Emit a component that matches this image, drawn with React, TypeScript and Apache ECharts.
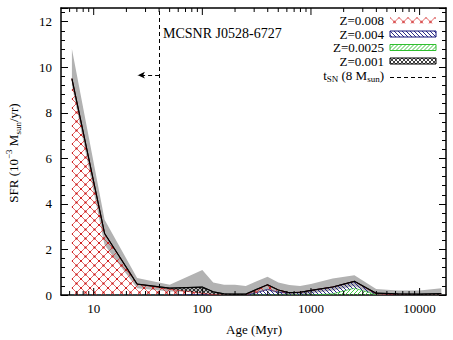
import React, { useEffect, useRef } from 'react';
import * as echarts from 'echarts';

// Age bins (Myr)
const ages = [6.3, 12.6, 25.1, 50.1, 100, 125.9, 158.5, 199.5, 251.2, 316.2, 398.1, 501.2, 631.0, 794.3, 1000, 1584.9, 2511.9, 3981.1, 6309.6, 10000, 15848.9];
// SFR per metallicity (10^-3 Msun/yr)
const sfrZ0025 = [0, 0, 0, 0, 0, 0, 0, 0, 0, 0, 0, 0, 0, 0, 0, 0.05, 0.3, 0.02, 0, 0, 0];
const sfrZ004 = [0, 0, 0, 0, 0.03, 0, 0, 0, 0, 0.1, 0.25, 0.12, 0.1, 0.12, 0.2, 0.3, 0.3, 0.03, 0.01, 0, 0];
const sfrZ008 = [9.5, 2.7, 0.48, 0.25, 0.05, 0.02, 0, 0, 0, 0.12, 0.2, 0.1, 0, 0, 0, 0, 0, 0, 0, 0, 0];
const sfrZ001 = [0, 0, 0, 0.05, 0.27, 0.12, 0.05, 0.04, 0.04, 0.03, 0, 0, 0, 0, 0, 0, 0, 0.03, 0.04, 0.04, 0.06];
// Uncertainty envelope of total SFR
const errLow = [9.2, 2.2, 0.3, 0.15, 0.15, 0.03, 0, 0, 0, 0.1, 0.2, 0.08, 0.03, 0.03, 0.08, 0.2, 0.4, 0, 0, 0, 0];
const errHigh = [10.8, 3.3, 0.75, 0.45, 1.1, 0.55, 0.45, 0.45, 0.4, 0.6, 0.8, 0.55, 0.44, 0.4, 0.48, 0.72, 0.87, 0.26, 0.2, 0.2, 0.3];

const tSN = 40; // Myr, lifetime of 8 Msun star
const arrowEnd = 25.5;
const arrowY = 9.65;

const xMin = 5, xMax = 17500, yMin = 0, yMax = 12.6;
const yTicks = [0, 2, 4, 6, 8, 10, 12];
const FONT = 'Liberation Serif';

function makePattern(size: number, draw: (ctx: CanvasRenderingContext2D, s: number) => void) {
  const c = document.createElement('canvas');
  c.width = size; c.height = size;
  const ctx = c.getContext('2d')!;
  draw(ctx, size);
  return { image: c, repeat: 'repeat' } as any;
}

function diag(ctx: CanvasRenderingContext2D, s: number, dir: 'back' | 'fwd') {
  for (let k = -1; k <= 1; k++) {
    ctx.beginPath();
    if (dir === 'back') { ctx.moveTo(k * s, 0); ctx.lineTo(k * s + s, s); }
    else { ctx.moveTo(k * s + s, 0); ctx.lineTo(k * s, s); }
    ctx.stroke();
  }
}

export default function App() {
  const ref = useRef<HTMLDivElement>(null);
  useEffect(() => {
    if (!ref.current) return;
    const chart = echarts.init(ref.current, null, { renderer: 'svg' });

    const redPat = makePattern(9, (ctx, s) => {
      ctx.strokeStyle = 'rgba(215,30,30,0.85)'; ctx.lineWidth = 0.8;
      diag(ctx, s, 'back'); diag(ctx, s, 'fwd');
      ctx.fillStyle = 'rgba(200,20,20,1)';
      [[s / 2, s / 2], [0, 0], [s, 0], [0, s], [s, s]].forEach(([x, y]) => {
        ctx.beginPath(); ctx.arc(x, y, 1.1, 0, Math.PI * 2); ctx.fill();
      });
    });
    const bluePat = makePattern(4, (ctx, s) => { ctx.strokeStyle = '#16167a'; ctx.lineWidth = 0.9; diag(ctx, s, 'back'); });
    const greenPat = makePattern(4, (ctx, s) => { ctx.strokeStyle = '#2fbf2f'; ctx.lineWidth = 0.9; diag(ctx, s, 'fwd'); });
    const checkPat = makePattern(4, (ctx, s) => { ctx.strokeStyle = '#111'; ctx.lineWidth = 0.8; diag(ctx, s, 'back'); diag(ctx, s, 'fwd'); });

    // cumulative stacking (bottom to top: Z=0.0025, Z=0.004, Z=0.008, Z=0.001)
    const comps = [
      { vals: sfrZ0025, fill: greenPat, col: '#2fbf2f' },
      { vals: sfrZ004, fill: bluePat, col: '#16167a' },
      { vals: sfrZ008, fill: redPat, col: '#d02020' },
      { vals: sfrZ001, fill: checkPat, col: '#111' },
    ];
    const bands: { lo: number[]; hi: number[]; fill: any; col: string | null }[] = [];
    bands.push({ lo: errLow, hi: errHigh, fill: '#b2b2b2', col: null });
    let base = ages.map(() => 0);
    comps.forEach((c) => {
      const hi = base.map((b, i) => b + c.vals[i]);
      bands.push({ lo: base, hi, fill: c.fill, col: c.col });
      base = hi;
    });
    const total = base;

    const axisCommon = {
      axisLine: { show: true, onZero: false, lineStyle: { color: '#000', width: 1.5 } },
      splitLine: { show: false },
    };

    chart.setOption({
      animation: false,
      grid: { left: 61, right: 7, top: 8, bottom: 45, containLabel: false },
      xAxis: [
        { type: 'log', logBase: 10, min: xMin, max: xMax, position: 'bottom', ...axisCommon,
          axisTick: { show: false }, minorTick: { show: false },
          axisLabel: { fontFamily: FONT, fontSize: 13, color: '#000', margin: 7, showMinLabel: false, showMaxLabel: false,
            formatter: (v: number) => String(Math.round(v)) } },
        { type: 'log', logBase: 10, min: xMin, max: xMax, position: 'top', ...axisCommon,
          axisTick: { show: false }, minorTick: { show: false }, axisLabel: { show: false } },
      ],
      yAxis: [
        { type: 'value', min: yMin, max: yMax, interval: 2, position: 'left', ...axisCommon,
          axisTick: { show: true, inside: true, length: 7, lineStyle: { color: '#000', width: 1 } },
          minorTick: { show: true, splitNumber: 5, length: 4, lineStyle: { color: '#000', width: 1 } },
          axisLabel: { fontFamily: FONT, fontSize: 13, color: '#000', margin: 9, showMaxLabel: false,
            formatter: (v: number) => (yTicks.includes(v) ? String(v) : '') } },
        { type: 'value', min: yMin, max: yMax, interval: 2, position: 'right', ...axisCommon,
          axisTick: { show: true, inside: true, length: 7, lineStyle: { color: '#000', width: 1 } },
          minorTick: { show: true, splitNumber: 5, length: 4, lineStyle: { color: '#000', width: 1 } },
          axisLabel: { show: false } },
      ],
      series: [
        {
          type: 'custom', silent: true, z: 2, clip: true,
          data: bands.map(() => [ages[0], 0]),
          renderItem: (params: any, api: any) => {
            const b = bands[params.dataIndex];
            const top = ages.map((a, i) => api.coord([a, b.hi[i]]));
            const bot = ages.map((a, i) => api.coord([a, b.lo[i]])).reverse();
            const children: any[] = [
              { type: 'polygon', shape: { points: top.concat(bot) }, style: { fill: b.fill, stroke: 'none' } },
            ];
            if (b.col) {
              children.push({ type: 'polyline', shape: { points: top }, style: { fill: 'none', stroke: b.col, lineWidth: 0.7 } });
            }
            return { type: 'group', children };
          },
        },
        { name: 'total', type: 'line', data: ages.map((a, i) => [a, total[i]]), showSymbol: false, silent: true, z: 5,
          lineStyle: { width: 1.2, color: '#000' },
          markLine: {
            silent: true, symbol: ['none', 'none'], label: { show: false },
            lineStyle: { type: [4, 3], color: '#000', width: 1 },
            data: [
              { xAxis: tSN },
              [{ coord: [tSN, arrowY], symbol: 'none' }, { coord: [arrowEnd, arrowY], symbol: 'arrow', symbolSize: [5, 7] }],
            ],
          } },
      ],
    });

    const px = (v: number) => chart.convertToPixel({ xAxisIndex: 0 }, v) as number;
    const yB = chart.convertToPixel({ yAxisIndex: 0 }, yMin) as number;
    const yT = chart.convertToPixel({ yAxisIndex: 0 }, yMax) as number;
    const graphics: any[] = [];
    for (const d of [1, 10, 100, 1000, 10000]) {
      for (let m = 1; m <= 9; m++) {
        const v = m * d;
        if (v <= xMin || v >= xMax) continue;
        const x = px(v);
        const len = m === 1 ? 7 : 4;
        graphics.push({ type: 'line', silent: true, z: 100, shape: { x1: x, y1: yB, x2: x, y2: yB - len }, style: { stroke: '#000', lineWidth: 1 } });
        graphics.push({ type: 'line', silent: true, z: 100, shape: { x1: x, y1: yT, x2: x, y2: yT + len }, style: { stroke: '#000', lineWidth: 1 } });
      }
    }
    graphics.push({ type: 'text', z: 100, x: 163, y: 33, style: { text: 'MCSNR J0528-6727', font: `14px "${FONT}"`, fill: '#000', align: 'left', verticalAlign: 'middle' } });
    graphics.push({ type: 'text', z: 100, x: 254, y: 329, style: { text: 'Age (Myr)', font: `13px "${FONT}"`, fill: '#000', align: 'center', verticalAlign: 'middle' } });
    graphics.push({
      type: 'text', z: 100, x: 13, y: 153, rotation: Math.PI / 2,
      style: {
        text: '{a|SFR (10}{sup|−3}{a| M}{sub|sun}{a|/yr)}', align: 'center', verticalAlign: 'middle',
        rich: {
          a: { fontFamily: FONT, fontSize: 13, lineHeight: 18, color: '#000' },
          sup: { fontFamily: FONT, fontSize: 9, lineHeight: 9, verticalAlign: 'top', color: '#000' },
          sub: { fontFamily: FONT, fontSize: 9, lineHeight: 9, verticalAlign: 'bottom', color: '#000' },
        },
      },
    });
    const legend = [
      { label: 'Z=0.008', pat: redPat, border: null as string | null },
      { label: 'Z=0.004', pat: bluePat, border: '#16167a' },
      { label: 'Z=0.0025', pat: greenPat, border: '#2fbf2f' },
      { label: 'Z=0.001', pat: checkPat, border: '#000' },
    ];
    const rowY = [20.5, 34, 47.5, 61];
    legend.forEach((l, i) => {
      graphics.push({ type: 'text', z: 100, x: 384, y: rowY[i], style: { text: l.label, font: `13px "${FONT}"`, fill: '#000', align: 'right', verticalAlign: 'middle' } });
      graphics.push({ type: 'rect', z: 100, x: 390, y: rowY[i] - 3, shape: { x: 0, y: 0, width: 46, height: 6 },
        style: { fill: l.pat, stroke: l.border || 'none', lineWidth: l.border ? 1 : 0 } });
    });
    graphics.push({
      type: 'text', z: 100, x: 384, y: 75,
      style: {
        text: '{a|t}{s|SN}{a| (8 M}{s|sun}{a|)}', align: 'right', verticalAlign: 'middle',
        rich: {
          a: { fontFamily: FONT, fontSize: 13, lineHeight: 16, color: '#000' },
          s: { fontFamily: FONT, fontSize: 9, lineHeight: 9, verticalAlign: 'bottom', color: '#000' },
        },
      },
    });
    graphics.push({ type: 'line', z: 100, shape: { x1: 390, y1: 77.5, x2: 436, y2: 77.5 }, style: { stroke: '#000', lineWidth: 1, lineDash: [4, 3] } });

    chart.setOption({ graphic: graphics });
    return () => chart.dispose();
  }, []);
  return <div ref={ref} style={{ position: 'fixed', left: 0, top: 0, width: 453, height: 340, background: '#fff' }} />;
}
